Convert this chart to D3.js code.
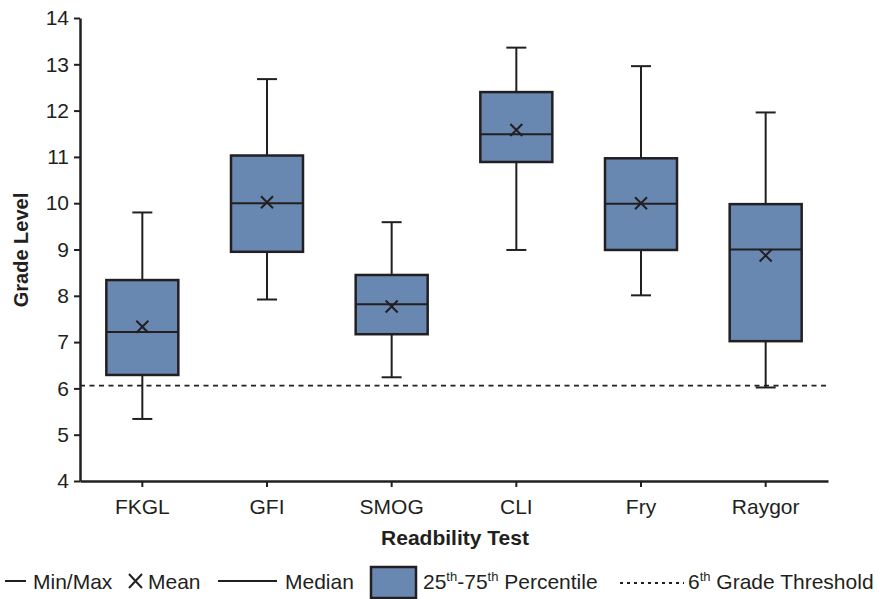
<!DOCTYPE html>
<html>
<head>
<meta charset="utf-8">
<script src="https://cdn.jsdelivr.net/npm/d3@7"></script>
<style>
  body { margin: 0; background: #fff; }
  text { font-family: "Liberation Sans", Arial, sans-serif; fill: #231f20; }
</style>
</head>
<body>
<svg></svg>
<script>
// readability tests and their box stats (grade level)
var tests  = ['FKGL', 'GFI', 'SMOG', 'CLI', 'Fry', 'Raygor'];
var mins   = [5.34, 7.92, 6.24, 8.99, 8.01, 6.02];
var q1s    = [6.29, 8.95, 7.17, 10.89, 8.99, 7.02];
var medians= [7.22, 10.0, 7.82, 11.49, 9.99, 9.0];
var q3s    = [8.34, 11.03, 8.45, 12.40, 10.97, 9.98];
var maxs   = [9.80, 12.68, 9.59, 13.36, 12.96, 11.96];
var means  = [7.33, 10.02, 7.77, 11.58, 10.0, 8.87];
var yTicks = [4, 5, 6, 7, 8, 9, 10, 11, 12, 13, 14];
var threshold = 6.06;

var width = 879,
  height = 599,
  ink = '#231f20',
  boxFill = '#6888b2';

var svg = d3.select('svg')
  .attr('width', width)
  .attr('height', height);

var x = d3.scaleBand().domain(tests).range([80, 828]);
var y = d3.scaleLinear().domain([4, 14]).range([481, 18]);

var data = tests.map((t, i) => ({
  name: t, min: mins[i], q1: q1s[i], med: medians[i], q3: q3s[i], max: maxs[i], mean: means[i]
}));

// threshold line
svg.append('line')
  .attr('x1', 80).attr('x2', 828)
  .attr('y1', y(threshold)).attr('y2', y(threshold))
  .attr('stroke', ink).attr('stroke-width', 1.8)
  .attr('stroke-dasharray', '5,4.5');

var boxW = 72, capW = 20;

var g = svg.selectAll('.box').data(data)
  .join('g')
  .attr('class', 'box')
  .attr('transform', d => 'translate(' + (x(d.name) + x.bandwidth() / 2) + ',0)');

// whiskers
g.append('line')
  .attr('x1', 0).attr('x2', 0)
  .attr('y1', d => y(d.min)).attr('y2', d => y(d.max))
  .attr('stroke', ink).attr('stroke-width', 2);
g.selectAll('.cap').data(d => [d.min, d.max])
  .join('line')
  .attr('class', 'cap')
  .attr('x1', -capW / 2).attr('x2', capW / 2)
  .attr('y1', v => y(v)).attr('y2', v => y(v))
  .attr('stroke', ink).attr('stroke-width', 2);

// box
g.append('rect')
  .attr('x', -boxW / 2)
  .attr('width', boxW)
  .attr('y', d => y(d.q3))
  .attr('height', d => y(d.q1) - y(d.q3))
  .attr('fill', boxFill)
  .attr('stroke', ink).attr('stroke-width', 2.5);

// median
g.append('line')
  .attr('x1', -boxW / 2).attr('x2', boxW / 2)
  .attr('y1', d => y(d.med)).attr('y2', d => y(d.med))
  .attr('stroke', ink).attr('stroke-width', 2);

// mean marker
var m = 6;
g.append('path')
  .attr('d', d => {
    var cy = y(d.mean);
    return 'M' + [-m, cy - m] + 'L' + [m, cy + m] + 'M' + [m, cy - m] + 'L' + [-m, cy + m];
  })
  .attr('stroke', ink).attr('stroke-width', 2);

// axes
var yAxis = svg.append('g')
  .attr('transform', 'translate(80,0)')
  .call(d3.axisLeft(y).tickValues(yTicks).tickSize(6).tickSizeOuter(0).tickPadding(5));
var xAxis = svg.append('g')
  .attr('transform', 'translate(0,481)')
  .call(d3.axisBottom(x).tickSize(6).tickSizeOuter(0).tickPadding(12));

[yAxis, xAxis].forEach(a => {
  a.select('.domain').attr('stroke', ink).attr('stroke-width', 2.5);
  a.selectAll('.tick line').attr('stroke', ink).attr('stroke-width', 2);
  a.selectAll('.tick text').attr('font-size', 21).style('fill', ink)
    .attr('font-family', '"Liberation Sans", Arial, sans-serif');
});

svg.append('text')
  .attr('x', 455).attr('y', 545)
  .attr('text-anchor', 'middle')
  .attr('font-size', 21).attr('font-weight', 'bold')
  .text('Readbility Test');

svg.append('text')
  .attr('transform', 'translate(28,250) rotate(-90)')
  .attr('text-anchor', 'middle')
  .attr('font-size', 20).attr('font-weight', 'bold')
  .text('Grade Level');

// legend
var ly = 581;
var leg = svg.append('g');
leg.append('line').attr('x1', 5).attr('x2', 26).attr('y1', ly).attr('y2', ly)
  .attr('stroke', ink).attr('stroke-width', 2);
leg.append('text').attr('x', 33).attr('y', ly + 8).attr('font-size', 21).text('Min/Max');

leg.append('path')
  .attr('d', 'M129,574L142,588M142,574L129,588')
  .attr('stroke', ink).attr('stroke-width', 2);
leg.append('text').attr('x', 148).attr('y', ly + 8).attr('font-size', 21).text('Mean');

leg.append('line').attr('x1', 218).attr('x2', 277).attr('y1', ly).attr('y2', ly)
  .attr('stroke', ink).attr('stroke-width', 2);
leg.append('text').attr('x', 285).attr('y', ly + 8).attr('font-size', 21).text('Median');

leg.append('rect').attr('x', 371).attr('y', 567).attr('width', 45).attr('height', 31)
  .attr('fill', boxFill).attr('stroke', ink).attr('stroke-width', 2.5);
var pt = leg.append('text').attr('x', 423).attr('y', ly + 8).attr('font-size', 21);
pt.append('tspan').text('25');
pt.append('tspan').attr('dy', -8).attr('font-size', 13).text('th');
pt.append('tspan').attr('dy', 8).text('-75');
pt.append('tspan').attr('dy', -8).attr('font-size', 13).text('th');
pt.append('tspan').attr('dy', 8).text(' Percentile');

leg.append('line').attr('x1', 620).attr('x2', 684).attr('y1', ly + 2).attr('y2', ly + 2)
  .attr('stroke', ink).attr('stroke-width', 1.8).attr('stroke-dasharray', '3,4');
var tt = leg.append('text').attr('x', 688).attr('y', ly + 8).attr('font-size', 21);
tt.append('tspan').text('6');
tt.append('tspan').attr('dy', -8).attr('font-size', 13).text('th');
tt.append('tspan').attr('dy', 8).text(' Grade Threshold');
</script>
</body>
</html>
